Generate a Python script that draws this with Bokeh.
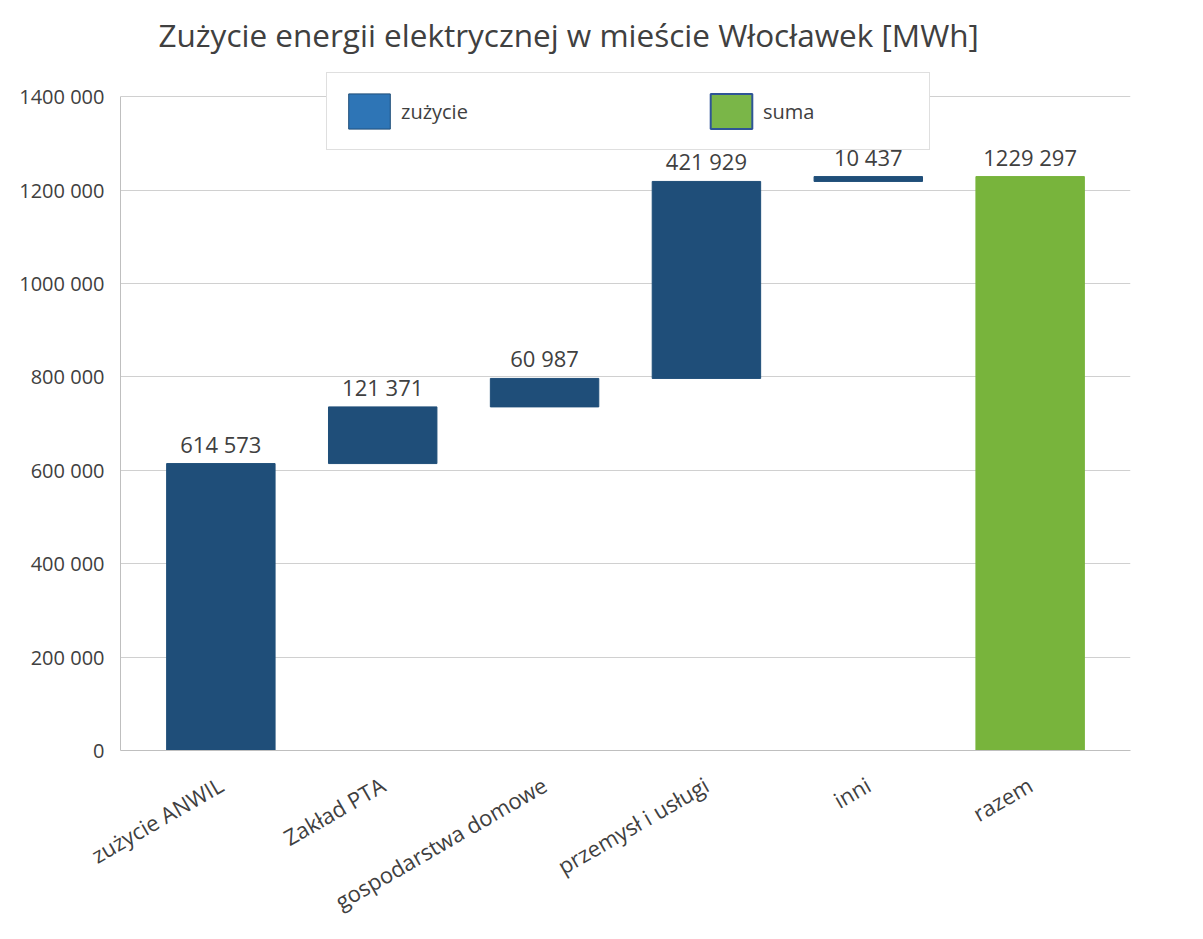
from bokeh.plotting import figure
from bokeh.models import ColumnDataSource, FactorRange, Range1d, FixedTicker, Legend, LegendItem
from bokeh.core.properties import value
from bokeh.embed import file_html
from bokeh.resources import INLINE
import math

# ---- data ----
categories = ["zużycie ANWIL", "Zakład PTA", "gospodarstwa domowe", "przemysł i usługi", "inni", "razem"]
values = [614573, 121371, 60987, 421929, 10437, 1229297]
is_total = [False, False, False, False, False, True]
y_ticks = [0, 200000, 400000, 600000, 800000, 1000000, 1200000, 1400000]
series_labels = ["zużycie", "suma"]
title_text = "Zużycie energii elektrycznej w mieście Włocławek [MWh]"

FONT = "Open Sans"
TXT = "#404040"
C_BAR = "#1f4e79"
C_SUM = "#78b43c"


def fmt(v):
    s = str(v)
    return s if len(s) <= 3 else s[:-3] + " " + s[-3:]


bottoms, tops = [], []
running = 0
for v, t in zip(values, is_total):
    if t:
        bottoms.append(0)
        tops.append(v)
    else:
        bottoms.append(running)
        running += v
        tops.append(running)

src = ColumnDataSource(dict(
    x=categories, bottom=bottoms, top=tops,
    color=[C_SUM if t else C_BAR for t in is_total],
    label=[fmt(v) for v in values],
))

y_max = y_ticks[-1]
# headroom above the last tick so that the legend box (which overlaps
# the top of the plot area) lies inside the frame and is not clipped
y_end = y_max * 1.048

p = figure(
    width=1187, height=931,
    x_range=FactorRange(*categories, range_padding=0.12, range_padding_units="absolute"),
    y_range=Range1d(0, y_end),
    output_backend="svg", toolbar_location=None,
    min_border_left=120, min_border_right=57, min_border_top=59, min_border_bottom=150,
)
p.outline_line_color = None
p.background_fill_color = "white"
p.border_fill_color = "white"

p.title.text = title_text
p.title.text_font = FONT
p.title.text_font_size = "31.5px"
p.title.text_font_style = "normal"
p.title.text_color = TXT
p.title.align = "left"
p.title.offset = 38
p.title.standoff = 20

p.vbar(x="x", bottom="bottom", top="top", width=0.67, source=src,
       fill_color="color", line_color="color")

p.text(x="x", y="top", text="label", source=src, text_align="center",
       text_baseline="bottom", y_offset=-5, text_font=value(FONT),
       text_font_size="22px", text_color=TXT)

# legend swatches (colours as in the reference legend); their data is empty (NaN)
nan = float("nan")
r1 = p.vbar(x=[categories[0]], top=[nan], bottom=[nan], width=0.5,
            fill_color="#2e75b6", line_color="#1f4e79")
r2 = p.vbar(x=[categories[-1]], top=[nan], bottom=[nan], width=0.5,
            fill_color="#7ab648", line_color="#2f5597", line_width=2)
legend = Legend(
    items=[LegendItem(label=series_labels[0], renderers=[r1]),
           LegendItem(label=series_labels[1], renderers=[r2])],
    location=(206, 600), orientation="horizontal",
    glyph_width=52, glyph_height=44, label_standoff=6, label_width=150,
    spacing=154, padding=16, margin=0,
    border_line_color="#bfbfbf", background_fill_color="white", background_fill_alpha=1,
    label_text_font=FONT, label_text_font_size="20px", label_text_color=TXT,
)
p.add_layout(legend)

# axes
p.yaxis.ticker = FixedTicker(ticks=y_ticks)
p.yaxis.bounds = (0, y_max)
p.yaxis.major_label_overrides = {t: fmt(t) for t in y_ticks}
p.yaxis.major_label_text_font = FONT
p.yaxis.major_label_text_font_size = "20px"
p.yaxis.major_label_text_color = TXT
p.yaxis.major_tick_line_color = None
p.yaxis.minor_tick_line_color = None
p.yaxis.axis_line_color = "#bfbfbf"
p.yaxis.major_label_standoff = 10

p.xaxis.major_label_orientation = math.pi / 6
p.xaxis.major_label_text_font = FONT
p.xaxis.major_label_text_font_size = "22px"
p.xaxis.major_label_text_color = TXT
p.xaxis.major_tick_line_color = None
p.xaxis.axis_line_color = "#bfbfbf"
p.xaxis.major_label_standoff = 26

p.xgrid.grid_line_color = None
p.ygrid.grid_line_color = "#d0d0d0"
p.ygrid.grid_line_width = 1.2

open("out.html", "w").write(file_html(p, INLINE))
